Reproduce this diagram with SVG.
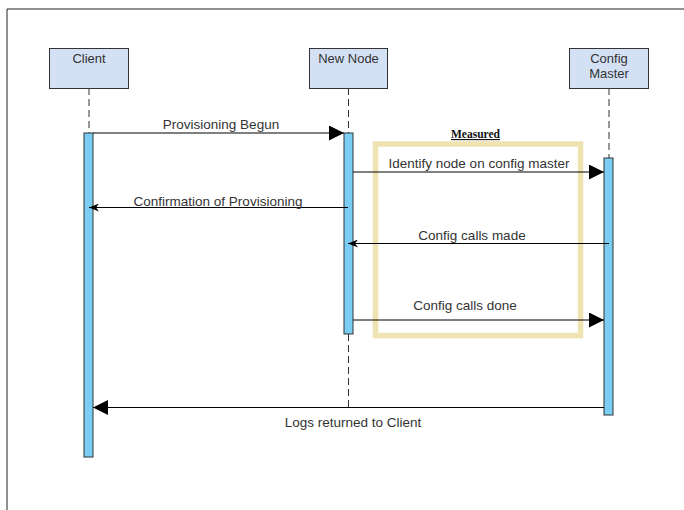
<svg xmlns="http://www.w3.org/2000/svg" width="684" height="510" viewBox="0 0 684 510">
<defs>
<style>
.t{font-family:"Liberation Sans",Arial,sans-serif;font-size:13px;fill:#333;text-anchor:middle}
.m{font-size:13.5px}
.box{fill:#D4E1F5;stroke:#333;stroke-width:1}
.bar{fill:#7ACEF4;stroke:#333;stroke-width:1}
.life{stroke:#333;stroke-width:1;stroke-dasharray:7 4;fill:none}
.msg{stroke:#000;stroke-width:1;fill:none}
.big{marker-end:url(#big)}
.small{marker-end:url(#small)}
</style>
<marker id="big" viewBox="0 0 15 15" refX="15" refY="7.5" markerWidth="15" markerHeight="15" markerUnits="userSpaceOnUse" orient="auto">
<path d="M0,0 L15,7.5 L0,15 Z" fill="#000"/>
</marker>
<marker id="small" viewBox="0 0 10 8" refX="10" refY="4" markerWidth="10" markerHeight="8" markerUnits="userSpaceOnUse" orient="auto">
<path d="M0,0 L10,4 L0,8 L3,4 Z" fill="#000"/>
</marker>
</defs>
<rect width="684" height="510" fill="#fff"/>
<path d="M7,510 V9 H684" fill="none" stroke="#222" stroke-width="1"/>

<g id="measured">
<rect x="375.5" y="144" width="205" height="191.5" fill="none" stroke="#EFE3B1" stroke-width="5.5"/>
<text x="475.5" y="138" style="font-family:'Liberation Serif','Times New Roman',serif;font-size:11.5px;font-weight:bold;fill:#111;text-anchor:middle;text-decoration:underline">Measured</text>
</g>

<g id="lifelines">
<line class="life" x1="89" y1="88" x2="89" y2="133"/>
<line class="life" x1="348.5" y1="88" x2="348.5" y2="133"/>
<line class="life" x1="348.5" y1="334" x2="348.5" y2="407"/>
<line class="life" x1="609" y1="88" x2="609" y2="158"/>
</g>

<g id="client">
<rect class="box" x="49.5" y="48.5" width="79" height="40"/>
<text class="t" x="89" y="63">Client</text>
<rect class="bar" x="84" y="133" width="9" height="324"/>
</g>
<g id="newnode">
<rect class="box" x="309.5" y="48.5" width="78" height="40"/>
<text class="t" x="348.5" y="63">New Node</text>
<rect class="bar" x="344" y="133" width="9" height="201"/>
</g>
<g id="configmaster">
<rect class="box" x="569.5" y="48.5" width="79" height="40"/>
<text class="t" x="609" y="63">Config</text>
<text class="t" x="609" y="78">Master</text>
<rect class="bar" x="604" y="158" width="9" height="257"/>
</g>

<g id="connectors">
<line class="msg big" x1="93" y1="133" x2="344" y2="133"/>
<text class="t m" x="221" y="129">Provisioning Begun</text>
<line class="msg big" x1="353" y1="172" x2="604" y2="172"/>
<text class="t m" x="479" y="168">Identify node on config master</text>
<line class="msg small" x1="348" y1="207.5" x2="89" y2="207.5"/>
<text class="t m" x="218" y="206">Confirmation of Provisioning</text>
<line class="msg small" x1="609" y1="243.5" x2="348" y2="243.5"/>
<text class="t m" x="472" y="240">Config calls made</text>
<line class="msg big" x1="353" y1="320" x2="604" y2="320"/>
<text class="t m" x="465" y="310">Config calls done</text>
<line class="msg big" x1="604" y1="407.5" x2="93" y2="407.5"/>
<text class="t m" x="353" y="427">Logs returned to Client</text>
</g>
</svg>
